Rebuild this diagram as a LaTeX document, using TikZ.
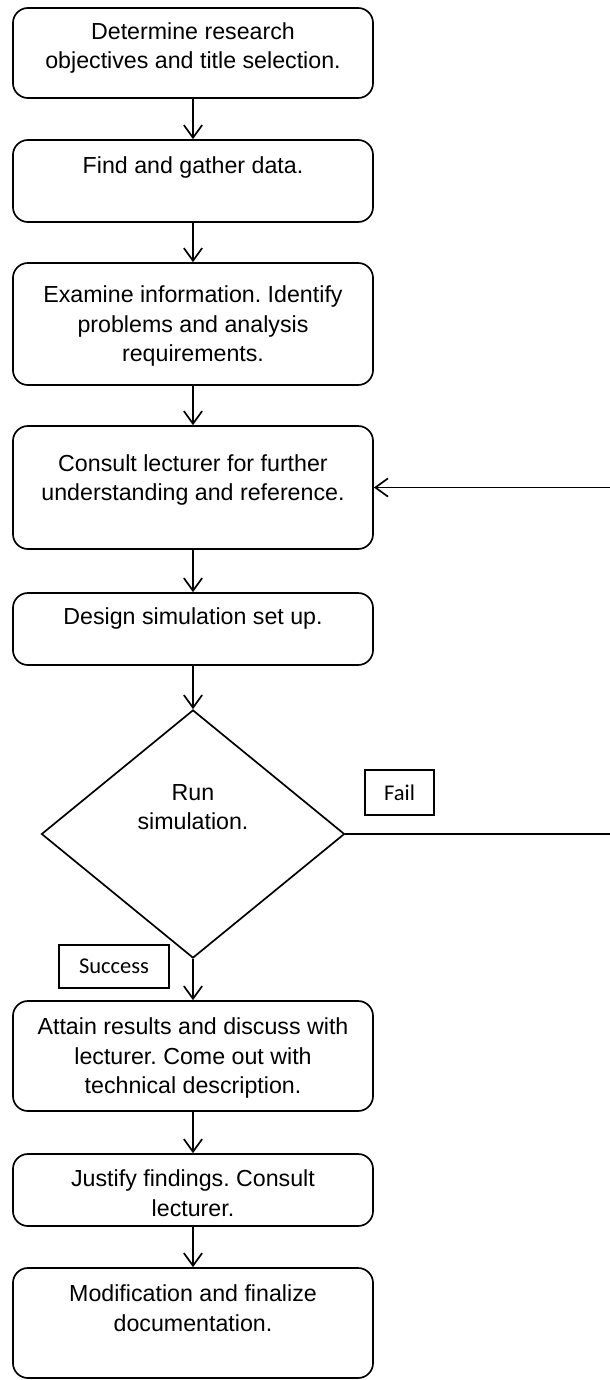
\documentclass[tikz,border=0pt]{standalone}
\usepackage{fontspec}
\setmainfont{Liberation Sans}
\newfontfamily\tagfont{Carlito}
\usetikzlibrary{arrows.meta, shapes.geometric}
\frenchspacing

\begin{document}
\begin{tikzpicture}[x=0.025cm, y=-0.025cm,
    stepbox/.style={draw, line width=1.2pt, rounded corners=0.375cm, minimum width=9cm, inner sep=0pt},
    steptext/.style={align=center, inner sep=0pt, font=\fontsize{16.5}{21}\selectfont},
    tagbox/.style={draw, line width=1pt, inner sep=0pt, font=\tagfont\fontsize{16}{18}\selectfont},
    flow/.style={-{Straight Barb[length=9pt,width=13pt]}, line width=1.2pt}]
    \useasboundingbox (0,0) rectangle (610,1380);
    \foreach \name/\top/\bot/\ty/\txt in {
        b1/8/98/48/{Determine research\\objectives and title selection.},
        b2/140/222/167/{Find and gather data.},
        b3/263/385/326/{Examine information. Identify\\problems and analysis\\requirements.},
        b4/426/549/480/{Consult lecturer for further\\understanding and reference.},
        b5/593/665/618/{Design simulation set up.},
        b6/1001/1111/1058/{Attain results and discuss with\\lecturer. Come out with\\technical description.},
        b7/1154/1226/1193/{Justify findings. Consult\\lecturer.},
        b8/1268/1378/1308/{Modification and finalize\\documentation.}} {
        \pgfmathsetmacro{\h}{(\bot-\top)*0.025}
        \node[stepbox, minimum height=\h cm] (\name) at (193,{(\top+\bot)/2}) {};
        \node[steptext] (\name text) at (193,\ty) {\txt};
    }
    \node[draw, diamond, line width=1.2pt, inner sep=0pt, minimum width=7.575cm, minimum height=6.2cm] (run) at (193,834) {};
    \node[steptext] (runtext) at (193,807) {Run\\simulation.};
    \node[tagbox, minimum width=1.725cm, minimum height=1.125cm] (fail) at (399.5,792.5) {Fail};
    \node[tagbox, minimum width=2.75cm, minimum height=1.075cm] (success) at (114,966.5) {Success};
    \path (b4.east) ++(247,0) coordinate (loop);
    \foreach \a/\b in {b1/b2, b2/b3, b3/b4, b4/b5, b5/run, run/b6, b6/b7, b7/b8}
        \draw[flow] (\a.south) -- (\b.north);
    \draw[flow] (run.east) -| (loop) -- (b4.east);
\end{tikzpicture}
\end{document}
